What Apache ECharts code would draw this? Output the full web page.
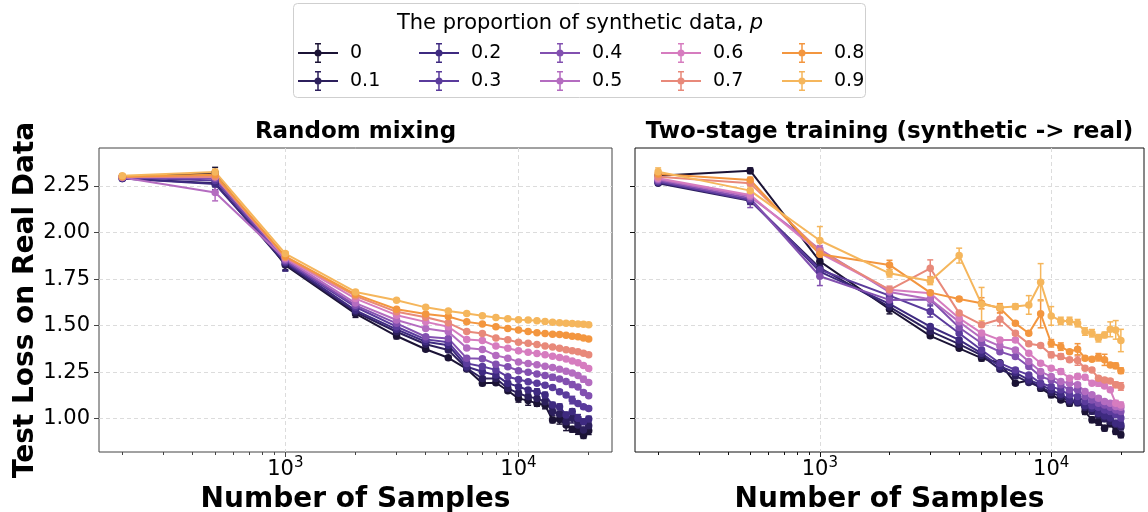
<!DOCTYPE html>
<html>
<head>
<meta charset="utf-8">
<script src="https://cdn.jsdelivr.net/npm/echarts@6/dist/echarts.min.js"></script>
<style>
  html, body { margin: 0; padding: 0; background: #fff; }
  #chart { width: 1148px; height: 512px; }
</style>
</head>
<body>
<div id="chart"></div>
<script>
// sample sizes on the x axis (log scale)
const samples = [200, 500, 1000, 2000, 3000, 4000, 5000, 6000, 7000, 8000, 9000,
  10000, 11000, 12000, 13000, 14000, 15000, 16000, 17000, 18000, 19000, 20000];
const proportions = ["0", "0.1", "0.2", "0.3", "0.4", "0.5", "0.6", "0.7", "0.8", "0.9"];
const legendOrder = ["0", "0.2", "0.4", "0.6", "0.8", "0.1", "0.3", "0.5", "0.7", "0.9"];
const colors = ["#1b1335", "#2c1f5c", "#3e2a80", "#5a3b9c", "#8250b0",
  "#b46cc0", "#d67cbf", "#e8897a", "#f3963f", "#f5b65c"];
const yTicks = [1.0, 1.25, 1.5, 1.75, 2.0, 2.25];
const xMajor = [3, 4];
const xMinor = [200, 300, 400, 500, 600, 700, 800, 900, 2000, 3000, 4000, 5000,
  6000, 7000, 8000, 9000, 20000];

// Random mixing: mean loss per p
const mix0 = [2.30, 2.32, 1.825, 1.564, 1.444, 1.373, 1.327, 1.267, 1.19, 1.193, 1.15, 1.109, 1.097, 1.082, 1.073, 0.993, 0.996, 0.966, 0.943, 0.936, 0.909, 0.935];
const mix1 = [2.29, 2.265, 1.83, 1.573, 1.467, 1.40, 1.369, 1.27, 1.216, 1.216, 1.163, 1.136, 1.118, 1.109, 1.091, 1.038, 1.025, 0.984, 1.002, 0.966, 0.939, 0.962];
const mix2 = [2.29, 2.26, 1.838, 1.582, 1.48, 1.413, 1.395, 1.279, 1.252, 1.234, 1.19, 1.172, 1.154, 1.145, 1.127, 1.073, 1.064, 1.02, 1.038, 1.002, 0.984, 0.998];
const mix3 = [2.295, 2.28, 1.843, 1.60, 1.494, 1.426, 1.41, 1.297, 1.28, 1.262, 1.225, 1.21, 1.198, 1.19, 1.18, 1.168, 1.145, 1.127, 1.10, 1.082, 1.064, 1.055];
const mix4 = [2.295, 2.29, 1.85, 1.609, 1.512, 1.44, 1.431, 1.324, 1.322, 1.293, 1.279, 1.258, 1.25, 1.24, 1.232, 1.222, 1.213, 1.20, 1.183, 1.17, 1.14, 1.123];
const mix5 = [2.295, 2.215, 1.858, 1.621, 1.53, 1.485, 1.467, 1.38, 1.372, 1.34, 1.325, 1.305, 1.297, 1.29, 1.282, 1.275, 1.265, 1.255, 1.245, 1.232, 1.212, 1.195];
const mix6 = [2.30, 2.30, 1.864, 1.645, 1.556, 1.52, 1.494, 1.425, 1.42, 1.39, 1.378, 1.365, 1.357, 1.35, 1.343, 1.335, 1.328, 1.32, 1.31, 1.30, 1.285, 1.27];
const mix7 = [2.30, 2.30, 1.866, 1.659, 1.574, 1.545, 1.515, 1.468, 1.458, 1.433, 1.424, 1.41, 1.405, 1.398, 1.39, 1.385, 1.378, 1.37, 1.365, 1.36, 1.352, 1.344];
const mix8 = [2.30, 2.31, 1.872, 1.668, 1.588, 1.562, 1.549, 1.52, 1.508, 1.494, 1.484, 1.476, 1.468, 1.462, 1.458, 1.454, 1.452, 1.448, 1.443, 1.44, 1.433, 1.428];
const mix9 = [2.305, 2.325, 1.887, 1.681, 1.636, 1.598, 1.578, 1.565, 1.553, 1.543, 1.537, 1.532, 1.53, 1.526, 1.522, 1.518, 1.515, 1.513, 1.511, 1.509, 1.507, 1.505];

// Random mixing: error bar half-heights
const mixErr0 = [0.01, 0.03, 0.03, 0.02, 0.015, 0.01, 0.01, 0.01, 0.012, 0.01, 0.01, 0.02, 0.025, 0.015, 0.02, 0.015, 0.025, 0.03, 0.015, 0.02, 0.015, 0.02];
const mixErr1 = [0.01, 0.02, 0.03, 0.015, 0.01, 0.01, 0.01, 0.01, 0.01, 0.01, 0.01, 0.015, 0.015, 0.02, 0.015, 0.02, 0.015, 0.015, 0.025, 0.015, 0.015, 0.015];
const mixErr2 = [0.01, 0.03, 0.045, 0.02, 0.01, 0.01, 0.01, 0.01, 0.01, 0.01, 0.01, 0.01, 0.01, 0.015, 0.015, 0.015, 0.015, 0.015, 0.015, 0.02, 0.015, 0.015];
const mixErr3 = [0.01, 0.02, 0.02, 0.01, 0.008, 0.008, 0.008, 0.008, 0.008, 0.008, 0.008, 0.008, 0.008, 0.008, 0.01, 0.01, 0.01, 0.01, 0.02, 0.01, 0.01, 0.01];
const mixErr4 = [0.01, 0.02, 0.015, 0.01, 0.008, 0.008, 0.008, 0.008, 0.008, 0.008, 0.008, 0.008, 0.008, 0.008, 0.008, 0.015, 0.008, 0.008, 0.015, 0.008, 0.008, 0.008];
const mixErr5 = [0.01, 0.045, 0.015, 0.01, 0.006, 0.006, 0.006, 0.006, 0.006, 0.006, 0.006, 0.006, 0.006, 0.006, 0.006, 0.006, 0.006, 0.006, 0.006, 0.006, 0.015, 0.006];
const mixErr6 = [0.01, 0.015, 0.01, 0.008, 0.006, 0.006, 0.006, 0.006, 0.006, 0.006, 0.006, 0.006, 0.006, 0.006, 0.006, 0.006, 0.006, 0.006, 0.006, 0.006, 0.006, 0.006];
const mixErr7 = [0.01, 0.015, 0.01, 0.008, 0.006, 0.006, 0.006, 0.006, 0.006, 0.006, 0.006, 0.006, 0.006, 0.006, 0.006, 0.006, 0.006, 0.006, 0.006, 0.006, 0.006, 0.006];
const mixErr8 = [0.01, 0.015, 0.01, 0.008, 0.006, 0.006, 0.006, 0.006, 0.006, 0.006, 0.006, 0.006, 0.006, 0.006, 0.006, 0.006, 0.006, 0.006, 0.006, 0.006, 0.006, 0.006];
const mixErr9 = [0.01, 0.015, 0.01, 0.008, 0.006, 0.006, 0.006, 0.006, 0.006, 0.006, 0.006, 0.006, 0.006, 0.006, 0.006, 0.006, 0.006, 0.006, 0.006, 0.006, 0.006, 0.006];

// Two-stage training: mean loss per p
const two0 = [2.305, 2.332, 1.845, 1.588, 1.445, 1.378, 1.325, 1.30, 1.19, 1.205, 1.164, 1.128, 1.101, 1.083, 1.11, 1.038, 0.994, 0.985, 0.949, 0.976, 0.931, 0.913];
const two1 = [2.264, 2.171, 1.81, 1.60, 1.47, 1.40, 1.34, 1.265, 1.23, 1.195, 1.17, 1.14, 1.12, 1.09, 1.085, 1.06, 1.04, 1.02, 1.0, 0.985, 0.97, 0.955];
const two2 = [2.27, 2.175, 1.79, 1.617, 1.495, 1.423, 1.351, 1.28, 1.248, 1.208, 1.182, 1.155, 1.131, 1.101, 1.092, 1.069, 1.056, 1.029, 1.015, 1.003, 0.976, 0.967];
const two3 = [2.273, 2.175, 1.80, 1.661, 1.576, 1.459, 1.369, 1.298, 1.262, 1.235, 1.19, 1.173, 1.155, 1.128, 1.119, 1.092, 1.069, 1.062, 1.047, 1.038, 1.021, 1.003];
const two4 = [2.279, 2.184, 1.765, 1.638, 1.64, 1.49, 1.405, 1.36, 1.334, 1.28, 1.226, 1.208, 1.182, 1.155, 1.155, 1.119, 1.101, 1.083, 1.074, 1.062, 1.047, 1.038];
const two5 = [2.286, 2.193, 1.91, 1.68, 1.642, 1.52, 1.432, 1.39, 1.369, 1.307, 1.253, 1.226, 1.2, 1.19, 1.182, 1.146, 1.128, 1.11, 1.092, 1.083, 1.065, 1.062];
const two6 = [2.291, 2.202, 1.89, 1.692, 1.674, 1.54, 1.46, 1.423, 1.423, 1.351, 1.298, 1.271, 1.253, 1.217, 1.226, 1.223, 1.19, 1.19, 1.176, 1.155, 1.083, 1.074];
const two7 = [2.30, 2.264, 1.90, 1.692, 1.808, 1.567, 1.505, 1.534, 1.459, 1.402, 1.393, 1.343, 1.334, 1.316, 1.312, 1.271, 1.262, 1.217, 1.208, 1.203, 1.182, 1.173];
const two8 = [2.314, 2.282, 1.883, 1.826, 1.677, 1.643, 1.62, 1.593, 1.512, 1.459, 1.563, 1.405, 1.387, 1.36, 1.373, 1.325, 1.319, 1.33, 1.316, 1.289, 1.284, 1.258];
const two9 = [2.327, 2.225, 1.957, 1.781, 1.74, 1.876, 1.615, 1.597, 1.602, 1.611, 1.733, 1.552, 1.525, 1.525, 1.513, 1.468, 1.459, 1.432, 1.45, 1.48, 1.477, 1.42];

// Two-stage training: error bar half-heights
const twoErr0 = [0.01, 0.015, 0.02, 0.025, 0.01, 0.01, 0.015, 0.01, 0.01, 0.01, 0.015, 0.015, 0.01, 0.015, 0.01, 0.015, 0.015, 0.02, 0.015, 0.02, 0.015, 0.015];
const twoErr1 = [0.01, 0.02, 0.02, 0.015, 0.01, 0.01, 0.01, 0.01, 0.015, 0.01, 0.015, 0.01, 0.015, 0.01, 0.015, 0.01, 0.015, 0.015, 0.015, 0.015, 0.015, 0.015];
const twoErr2 = [0.01, 0.02, 0.02, 0.015, 0.01, 0.01, 0.01, 0.01, 0.01, 0.015, 0.01, 0.01, 0.01, 0.015, 0.01, 0.01, 0.01, 0.015, 0.01, 0.015, 0.015, 0.015];
const twoErr3 = [0.01, 0.02, 0.02, 0.015, 0.03, 0.01, 0.01, 0.01, 0.01, 0.01, 0.01, 0.01, 0.01, 0.01, 0.01, 0.01, 0.01, 0.01, 0.01, 0.01, 0.01, 0.015];
const twoErr4 = [0.01, 0.05, 0.05, 0.015, 0.025, 0.015, 0.01, 0.01, 0.01, 0.01, 0.01, 0.01, 0.01, 0.01, 0.01, 0.01, 0.01, 0.01, 0.01, 0.01, 0.01, 0.015];
const twoErr5 = [0.01, 0.02, 0.02, 0.015, 0.01, 0.01, 0.015, 0.01, 0.01, 0.01, 0.01, 0.01, 0.01, 0.01, 0.01, 0.01, 0.01, 0.01, 0.01, 0.01, 0.01, 0.015];
const twoErr6 = [0.01, 0.02, 0.02, 0.015, 0.01, 0.015, 0.01, 0.01, 0.01, 0.01, 0.01, 0.01, 0.015, 0.01, 0.015, 0.01, 0.01, 0.015, 0.01, 0.01, 0.015, 0.015];
const twoErr7 = [0.01, 0.01, 0.02, 0.02, 0.045, 0.01, 0.01, 0.035, 0.01, 0.01, 0.01, 0.015, 0.015, 0.01, 0.025, 0.01, 0.01, 0.01, 0.01, 0.01, 0.015, 0.02];
const twoErr8 = [0.01, 0.015, 0.02, 0.025, 0.01, 0.01, 0.03, 0.025, 0.01, 0.01, 0.075, 0.02, 0.02, 0.01, 0.03, 0.01, 0.01, 0.02, 0.03, 0.01, 0.015, 0.015];
const twoErr9 = [0.02, 0.02, 0.075, 0.02, 0.02, 0.04, 0.09, 0.015, 0.015, 0.05, 0.1, 0.05, 0.02, 0.02, 0.02, 0.02, 0.02, 0.02, 0.015, 0.04, 0.05, 0.06];

const mixLoss = [mix0, mix1, mix2, mix3, mix4, mix5, mix6, mix7, mix8, mix9];
const mixErr = [mixErr0, mixErr1, mixErr2, mixErr3, mixErr4, mixErr5, mixErr6, mixErr7, mixErr8, mixErr9];
const twoLoss = [two0, two1, two2, two3, two4, two5, two6, two7, two8, two9];
const twoErr = [twoErr0, twoErr1, twoErr2, twoErr3, twoErr4, twoErr5, twoErr6, twoErr7, twoErr8, twoErr9];

const font = "DejaVu Sans";
const xMin = 2.201;
const xMax = 4.401;
const yMin = 0.821;
const yMax = 2.454;

// legend handle: line + marker + error bar with caps
const errIcon = "path://M0,9L40,9L40,11L0,11Z M19.25,0L20.75,0L20.75,20L19.25,20Z " +
  "M17,0L23,0L23,1.5L17,1.5Z M17,18.5L23,18.5L23,20L17,20Z " +
  "M16.5,10A3.5,3.5 0 1,1 23.5,10A3.5,3.5 0 1,1 16.5,10Z";

const chart = echarts.init(document.getElementById("chart"), null, { renderer: "canvas" });

function renderErrorBar(params, api) {
  const x = api.value(0);
  const y = api.value(1);
  const e = api.value(2);
  const top = api.coord([x, y + e]);
  const bot = api.coord([x, y - e]);
  const style = { stroke: api.visual("color"), lineWidth: 1.5 };
  return {
    type: "group",
    children: [
      { type: "line", shape: { x1: top[0], y1: top[1], x2: bot[0], y2: bot[1] }, style },
      { type: "line", shape: { x1: top[0] - 3, y1: top[1], x2: top[0] + 3, y2: top[1] }, style },
      { type: "line", shape: { x1: bot[0] - 3, y1: bot[1], x2: bot[0] + 3, y2: bot[1] }, style }
    ]
  };
}

const splitStyle = { color: "#dcdcdc", width: 1, type: [4, 3] };

function mainXAxis(gridIndex, spine) {
  return {
    type: "value",
    gridIndex,
    min: xMin,
    max: xMax,
    position: "bottom",
    name: "Number of Samples",
    nameLocation: "middle",
    nameGap: 26,
    nameTextStyle: { fontFamily: font, fontSize: 28, fontWeight: "bold", color: "#000" },
    axisLine: { show: false },
    axisTick: { show: true, customValues: xMajor, length: 5, lineStyle: { color: spine } },
    axisLabel: {
      customValues: xMajor,
      margin: 4,
      formatter: (v) => "{b|10}{s|" + Math.round(v) + "}",
      rich: {
        b: { fontFamily: font, fontSize: 21, color: "#000", lineHeight: 28 },
        s: { fontFamily: font, fontSize: 15, color: "#000", verticalAlign: "top", lineHeight: 15 }
      }
    },
    splitLine: { show: true, lineStyle: splitStyle }
  };
}

function minorXAxis(gridIndex, spine) {
  return {
    type: "value",
    gridIndex,
    min: xMin,
    max: xMax,
    position: "bottom",
    axisLine: { show: false },
    axisTick: { show: true, customValues: xMinor.map((v) => Math.log10(v)), length: 3, lineStyle: { color: spine } },
    axisLabel: { show: false },
    splitLine: { show: false }
  };
}

function yAxisFor(gridIndex, withLabels, spine) {
  return {
    type: "value",
    gridIndex,
    min: yMin,
    max: yMax,
    name: withLabels ? "Test Loss on Real Data" : "",
    nameLocation: "middle",
    nameGap: 58,
    nameTextStyle: { fontFamily: font, fontSize: 28, fontWeight: "bold", color: "#000" },
    axisLine: { show: false },
    axisTick: { show: true, customValues: yTicks, length: 5, lineStyle: { color: spine } },
    axisLabel: {
      show: withLabels,
      customValues: yTicks,
      margin: 9,
      formatter: (v) => v.toFixed(2),
      fontFamily: font,
      fontSize: 21,
      color: "#000"
    },
    splitLine: { show: true, lineStyle: splitStyle }
  };
}

const series = [];
[mixLoss, twoLoss].forEach((panel, g) => {
  const errs = g === 0 ? mixErr : twoErr;
  panel.forEach((loss, k) => {
    const color = colors[k];
    series.push({
      type: "line",
      name: proportions[k],
      xAxisIndex: g,
      yAxisIndex: g,
      data: samples.map((s, i) => [Math.log10(s), loss[i]]),
      symbol: "circle",
      symbolSize: 7.5,
      showSymbol: true,
      color,
      lineStyle: { width: 2, color },
      itemStyle: { color },
      emphasis: { disabled: true },
      silent: true,
      animation: false
    });
    series.push({
      type: "custom",
      name: proportions[k],
      xAxisIndex: g,
      yAxisIndex: g,
      data: samples.map((s, i) => [Math.log10(s), loss[i], errs[k][i]]),
      encode: { x: 0, y: 1 },
      itemStyle: { color },
      renderItem: renderErrorBar,
      silent: true,
      animation: false
    });
  });
});

chart.setOption({
  animation: false,
  backgroundColor: "#fff",
  grid: [
    { left: 99, top: 148, width: 513, height: 304, show: true, borderColor: "#444", borderWidth: 1, outerBoundsMode: "none" },
    { left: 635, top: 148, width: 509, height: 304, show: true, borderColor: "#111", borderWidth: 1, outerBoundsMode: "none" }
  ],
  xAxis: [mainXAxis(0, "#444"), mainXAxis(1, "#111"), minorXAxis(0, "#444"), minorXAxis(1, "#111")],
  yAxis: [yAxisFor(0, true, "#444"), yAxisFor(1, false, "#111")],
  legend: {
    data: legendOrder.map((name) => ({ name, icon: errIcon })),
    left: 298,
    top: 39,
    width: 605,
    padding: 0,
    itemWidth: 40,
    itemHeight: 20,
    itemGap: 0,
    selectedMode: false,
    itemStyle: { borderWidth: 0 },
    textStyle: { fontFamily: font, fontSize: 19, color: "#000", width: 69, lineHeight: 28, padding: [0, 0, 0, 7] }
  },
  graphic: [
    {
      type: "rect",
      z: 0,
      shape: { x: 293.5, y: 3.5, width: 572, height: 94, r: 4 },
      style: { fill: "#fff", stroke: "#cfcfcf", lineWidth: 1 }
    },
    {
      type: "text",
      x: 580,
      y: 24,
      style: {
        text: "{n|The proportion of synthetic data, }{i|p}",
        align: "center",
        verticalAlign: "middle",
        rich: {
          n: { fontFamily: font, fontSize: 21, fill: "#000" },
          i: { fontFamily: font, fontSize: 21, fontStyle: "italic", fill: "#000" }
        }
      }
    },
    {
      type: "text",
      x: 355.5,
      y: 132,
      style: { text: "Random mixing", align: "center", verticalAlign: "middle", fontFamily: font, fontSize: 23, fontWeight: "bold", fill: "#000" }
    },
    {
      type: "text",
      x: 889.5,
      y: 132,
      style: { text: "Two-stage training (synthetic -> real)", align: "center", verticalAlign: "middle", fontFamily: font, fontSize: 23, fontWeight: "bold", fill: "#000" }
    }
  ],
  series
});
</script>
</body>
</html>
